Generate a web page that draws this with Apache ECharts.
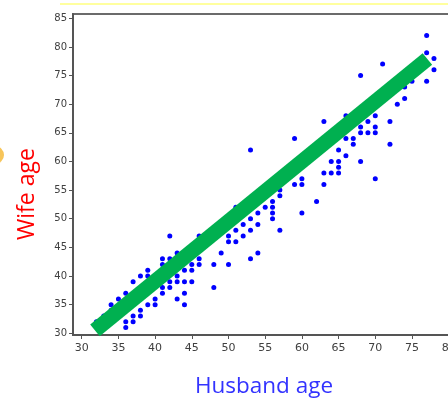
<!DOCTYPE html>
<html>
<head>
<meta charset="utf-8">
<script src="https://cdn.jsdelivr.net/npm/echarts@6/dist/echarts.min.js"></script>
<style>
html,body{margin:0;padding:0;background:#fff;}
#c{width:448px;height:400px;}
</style>
</head>
<body>
<div id="c"></div>
<script>
// Husband age (x) and wife age (y) for each couple
var husband = [32,33,34,34,35,36,37,38,39,39,41,42,41,42,43,42,46,
  36,36,37,37,38,38,39,40,40,41,41,42,43,44,44,42,43,44,45,43,44,45,45,46,46,
  48,48,49,50,50,51,50,51,52,52,53,53,54,54,55,51,53,54,56,56,56,56,57,57,57,60,59,60,60,62,63,63,64,65,65,64,65,68,66,65,70,
  66,67,67,68,69,70,68,70,69,72,63,66,70,72,68,71,73,74,74,75,77,78,78,77,77,53,59];
var wife = [32,33,35,34,36,37,39,40,40,41,42,42,43,43,44,47,47,
  31,32,32,33,33,34,35,35,36,37,38,38,36,35,37,39,39,39,39,40,41,41,42,42,43,
  42,38,44,42,46,46,47,48,47,49,48,50,49,51,52,52,43,44,50,51,52,53,54,55,48,51,56,56,57,53,56,58,58,58,59,60,60,60,61,62,57,
  64,64,63,65,65,65,66,66,67,67,67,68,68,63,75,77,70,71,73,74,74,76,78,79,82,62,64];
// Fitted line end points
var fitX = [31.8, 77.1];
var fitY = [30.5, 77.9];
var xTicks = [30,35,40,45,50,55,60,65,70,75,80];
var yTicks = [30,35,40,45,50,55,60,65,70,75,80,85];

var pts = husband.map(function(h,i){ return [h, wife[i]]; });
var linePts = fitX.map(function(x,i){ return [x, fitY[i]]; });

var chart = echarts.init(document.getElementById('c'), null, {renderer:'canvas'});
chart.setOption({
  animation:false,
  grid:{left:73, top:14, height:321, width:383, outerBoundsMode:'none', containLabel:false, show:true, borderColor:'#6b6b6b', borderWidth:2, backgroundColor:'#fff'},
  xAxis:{
    type:'value', min:28.81, max:81,
    splitLine:{show:false},
    axisLine:{show:true, onZero:false, lineStyle:{color:'#555', width:2}},
    axisTick:{show:true, customValues:xTicks, length:4, lineStyle:{color:'#555'}},
    axisLabel:{customValues:xTicks, color:'#404040', fontSize:11, fontFamily:'DejaVu Sans', margin:8}
  },
  yAxis:{
    type:'value', min:29.7, max:85.75,
    splitLine:{show:false},
    axisLine:{show:true, onZero:false, lineStyle:{color:'#555', width:2}},
    axisTick:{show:true, customValues:yTicks, length:4, lineStyle:{color:'#555'}},
    axisLabel:{customValues:yTicks, color:'#404040', fontSize:10, fontFamily:'DejaVu Sans', margin:6}
  },
  series:[
    {type:'scatter', data:pts, symbolSize:5, itemStyle:{color:'#0000FF', opacity:1}, z:2},
    {type:'line', data:linePts, symbol:'none', lineStyle:{color:'#00B050', width:15, cap:'butt'}, z:3}
  ],
  graphic:[
    {type:'rect', shape:{x:60,y:3,width:388,height:2}, style:{fill:'#FFFF9E'}},
    {type:'circle', shape:{cx:-5,cy:155,r:9}, style:{fill:'#F7C55A'}},
    {type:'text', x:27, y:194, rotation:Math.PI/2, style:{text:'Wife age', fill:'#FF0000', font:'23px "Open Sans", "DejaVu Sans", sans-serif', align:'center', verticalAlign:'middle'}},
    {type:'text', x:264, y:387, style:{text:'Husband age', fill:'#3333FF', font:'22.5px "Open Sans", "DejaVu Sans", sans-serif', align:'center', verticalAlign:'middle'}}
  ]
});
</script>
</body>
</html>
